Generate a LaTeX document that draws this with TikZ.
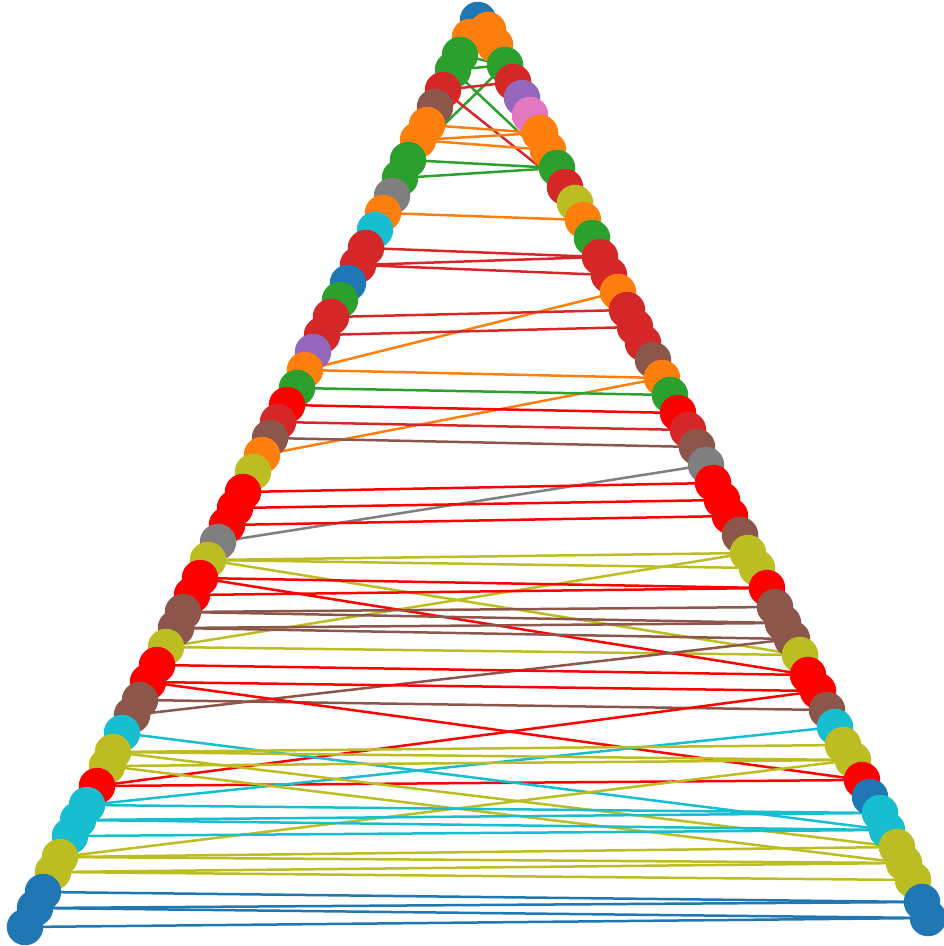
\documentclass[tikz,border=0pt]{standalone}
\usetikzlibrary{backgrounds}
\definecolor{tabblue}{HTML}{1F77B4}
\definecolor{taborange}{HTML}{FF7F0E}
\definecolor{tabgreen}{HTML}{2CA02C}
\definecolor{tabred}{HTML}{D62728}
\definecolor{tabpurple}{HTML}{9467BD}
\definecolor{tabbrown}{HTML}{8C564B}
\definecolor{tabpink}{HTML}{E377C2}
\definecolor{tabgray}{HTML}{7F7F7F}
\definecolor{tabolive}{HTML}{BCBD22}
\definecolor{tabcyan}{HTML}{17BECF}
\definecolor{brightred}{HTML}{FF0000}
\begin{document}
\begin{tikzpicture}[x=1pt,y=-1pt,
  dot/.style={circle,inner sep=0pt,minimum size=36.5pt,draw=none},
  edge/.style={line width=2.5pt}]
\useasboundingbox (0,0) rectangle (944,946);
% left side nodes
\foreach \n/\x/\y/\c in {
 L0/478/20/tabblue, L1/470/37/taborange, L2/460/55/tabgreen, L3/453/70/tabgreen,
 L4/443/90/tabred, L5/435/107/tabbrown, L6/427/125/taborange, L7/418/140/taborange,
 L8/408/160/tabgreen, L9/400/178/tabgreen, L10/392/196/tabgray, L11/383/213/taborange,
 L12/375/230/tabcyan, L13/366/248/tabred, L14/358/265/tabred, L15/348/283/tabblue,
 L16/340/300/tabgreen, L17/331/317/tabred, L18/322/335/tabred, L19/313/352/tabpurple,
 L20/305/370/taborange, L21/297/388/tabgreen, L22/287/405/brightred, L23/278/422/tabred,
 L24/270/438/tabbrown, L25/262/455/taborange, L26/253/472/tabolive, L27/243/492/brightred,
 L28/235/508/brightred, L29/227/525/brightred, L30/218/542/tabgray, L31/208/560/tabolive,
 L32/200/578/brightred, L33/192/595/brightred, L34/183/612/tabbrown, L35/176/628/tabbrown,
 L36/166/647/tabolive, L37/157/665/brightred, L38/148/682/brightred, L39/140/700/tabbrown,
 L40/132/715/tabbrown, L41/122/733/tabcyan, L42/113/752/tabolive, L43/107/766/tabolive,
 L44/97/786/brightred, L45/87/805/tabcyan, L46/78/820/tabcyan, L47/70/836/tabcyan,
 L48/60/857/tabolive, L49/53/872/tabolive, L50/43/892/tabblue, L51/35/908/tabblue,
 L52/25/927/tabblue}
 \node[dot,fill=\c] (\n) at (\x,\y) {};
% right side nodes
\foreach \n/\x/\y/\c in {
 R1/488/30/taborange, R2/495/45/taborange, R3/505/65/tabgreen, R4/513/82/tabred,
 R5/522/98/tabpurple, R6/530/115/tabpink, R7/540/133/taborange, R8/548/150/taborange,
 R9/557/168/tabgreen, R10/565/187/tabred, R11/575/203/tabolive, R12/583/220/taborange,
 R13/592/238/tabgreen, R14/600/257/tabred, R15/609/275/tabred, R16/618/292/taborange,
 R17/627/310/tabred, R18/635/327/tabred, R19/643/343/tabred, R20/653/360/tabbrown,
 R21/662/378/taborange, R22/670/395/tabgreen, R23/678/413/brightred, R24/688/430/tabred,
 R25/697/447/tabbrown, R26/706/465/tabgray, R27/713/483/brightred, R28/722/500/brightred,
 R29/730/516/brightred, R30/740/535/tabbrown, R31/748/553/tabolive, R32/757/568/tabolive,
 R33/767/588/brightred, R34/775/607/tabbrown, R35/783/623/tabbrown, R36/792/639/tabbrown,
 R37/800/655/tabolive, R38/808/675/brightred, R39/818/691/brightred, R40/827/710/tabbrown,
 R41/835/727/tabcyan, R42/843/745/tabolive, R43/853/760/tabolive, R44/862/780/brightred,
 R45/870/797/tabblue, R46/880/813/tabcyan, R47/887/830/tabcyan, R48/897/847/tabolive,
 R49/904/863/tabolive, R50/913/880/tabolive, R51/922/902/tabblue, R52/928/918/tabblue}
 \node[dot,fill=\c] (\n) at (\x,\y) {};
% connectors
\begin{scope}[on background layer]
\foreach \a/\b/\c in {
 L2/R3/tabgreen, L3/R3/tabgreen, L3/R9/tabgreen, R3/L8/tabgreen,
 L4/R4/tabred, L4/R10/tabred,
 L6/R7/taborange, L7/R7/taborange, L7/R8/taborange,
 L8/R9/tabgreen, L9/R9/tabgreen, L11/R12/taborange,
 L13/R14/tabred, L14/R14/tabred, L14/R15/tabred,
 R16/L20/taborange, L17/R17/tabred, L18/R18/tabred,
 L20/R21/taborange, L25/R21/taborange, L21/R22/tabgreen,
 L22/R23/brightred, L23/R24/tabred, L24/R25/tabbrown, L30/R26/tabgray,
 L27/R27/brightred, L28/R28/brightred, L29/R29/brightred,
 L31/R31/tabolive, L31/R32/tabolive, L31/R37/tabolive, L36/R31/tabolive, L36/R37/tabolive,
 L32/R33/brightred, L33/R33/brightred, L32/R38/brightred,
 L34/R34/tabbrown, L34/R35/tabbrown, L35/R35/tabbrown, L35/R36/tabbrown,
 L40/R36/tabbrown, L39/R40/tabbrown,
 L37/R38/brightred, L38/R39/brightred, L38/R44/brightred, L44/R39/brightred, L44/R44/brightred,
 L41/R47/tabcyan, R41/L45/tabcyan,
 L42/R42/tabolive, L42/R43/tabolive, L43/R43/tabolive, L42/R48/tabolive, L43/R49/tabolive,
 L48/R43/tabolive, L48/R48/tabolive, L48/R49/tabolive, L49/R49/tabolive, L49/R50/tabolive,
 L45/R46/tabcyan, L46/R46/tabcyan, L46/R47/tabcyan, L47/R47/tabcyan,
 L50/R51/tabblue, L51/R51/tabblue, L51/R52/tabblue, L52/R52/tabblue}
 \draw[edge,\c] (\a.center) -- (\b.center);
\end{scope}
\end{tikzpicture}
\end{document}
